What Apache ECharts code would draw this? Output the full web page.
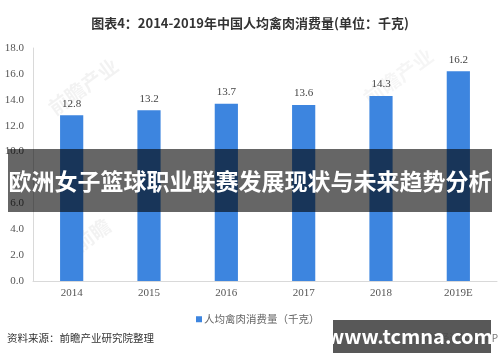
<!DOCTYPE html>
<html>
<head>
<meta charset="utf-8">
<script src="https://cdn.jsdelivr.net/npm/echarts@6/dist/echarts.min.js"></script>
<style>html,body{margin:0;padding:0;background:#fff;}#c{width:500px;height:362px;}</style>
</head>
<body>
<div id="c"></div>
<script>
const titleText = '图表4：2014-2019年中国人均禽肉消费量(单位：千克)';
const categories = ['2014', '2015', '2016', '2017', '2018', '2019E'];
const values = [12.8, 13.2, 13.7, 13.6, 14.3, 16.2];
const seriesName = '人均禽肉消费量（千克）';
const yMin = 0, yMax = 18, yInterval = 2;
const bannerText = '欧洲女子篮球职业联赛发展现状与未来趋势分析';
const sourceText = '资料来源：前瞻产业研究院整理';
const siteText = 'www.tcmna.com';

const chart = echarts.init(document.getElementById('c'), null, {renderer: 'canvas'});
const serif = '"Liberation Serif", "DejaVu Serif", serif';
const sans = '"Noto Sans CJK SC", "Noto Sans", sans-serif';
chart.setOption({
  backgroundColor: '#ffffff',
  animation: false,
  title: {
    text: titleText, left: 'center', top: 12,
    textStyle: {fontFamily: sans, fontSize: 13, fontWeight: 'bold', color: '#333'}
  },
  legend: {
    data: [seriesName], left: 191, top: 309, icon: 'rect', itemWidth: 6, itemHeight: 6, itemGap: 4,
    textStyle: {fontFamily: sans, fontSize: 10.5, color: '#666', padding: [0, 0, 0, -3]}
  },
  grid: {left: 33, right: 3, top: 48, height: 233, containLabel: false},
  xAxis: {
    type: 'category', data: categories,
    axisLine: {lineStyle: {color: '#d9d9d9'}}, axisTick: {show: false},
    axisLabel: {fontFamily: serif, fontSize: 11, color: '#555', margin: 7}
  },
  yAxis: {
    type: 'value', min: yMin, max: yMax, interval: yInterval,
    axisLine: {show: true, lineStyle: {color: '#d9d9d9'}}, axisTick: {show: false},
    splitLine: {show: false},
    axisLabel: {fontFamily: serif, fontSize: 11, color: '#555', margin: 9, formatter: v => v.toFixed(1)}
  },
  series: [{
    name: seriesName, type: 'bar', data: values, barWidth: '30%',
    itemStyle: {color: '#3d85df'},
    label: {show: true, position: 'top', distance: 6, fontFamily: serif, fontSize: 11, color: '#444', formatter: p => p.value.toFixed(1)},
    z: 3
  }],
  graphic: [
    {type: 'text', left: 45, top: 55, rotation: Math.PI / 5, z: 1, style: {text: '前瞻产业', fontFamily: sans, fontSize: 20, fontWeight: 'bold', fill: 'rgba(0,0,0,0.05)'}},
    {type: 'text', left: 70, top: 215, rotation: Math.PI / 5, z: 1, style: {text: '前瞻', fontFamily: sans, fontSize: 20, fontWeight: 'bold', fill: 'rgba(0,0,0,0.05)'}},
    {type: 'text', left: 360, top: 45, rotation: Math.PI / 5, z: 1, style: {text: '前瞻产业', fontFamily: sans, fontSize: 20, fontWeight: 'bold', fill: 'rgba(0,0,0,0.04)'}},
    {type: 'rect', shape: {x: 8, y: 149, width: 484, height: 63}, z: 100, style: {fill: 'rgba(0,0,0,0.6)'}},
    {type: 'text', x: 250, y: 181, z: 101, style: {text: bannerText, fontFamily: sans, fontSize: 23, fontWeight: 'bold', fill: '#fff', align: 'center', verticalAlign: 'middle'}},
    {type: 'text', x: 7, y: 338, z: 10, style: {text: sourceText, fontFamily: sans, fontSize: 10.5, fill: '#333', verticalAlign: 'middle'}},
    {type: 'text', x: 498, y: 338, z: 10, style: {text: '@前瞻经济学人APP', fontFamily: sans, fontSize: 10, fill: '#777', align: 'right', verticalAlign: 'middle'}},
    {type: 'rect', shape: {x: 333, y: 320, width: 158, height: 33}, z: 100, style: {fill: 'rgba(70,70,70,0.9)'}},
    {type: 'text', x: 410, y: 336, z: 101, style: {text: siteText, fontFamily: sans, fontSize: 20, fontWeight: 'bold', fill: '#fff', align: 'center', verticalAlign: 'middle'}}
  ]
});
</script>
</body>
</html>
